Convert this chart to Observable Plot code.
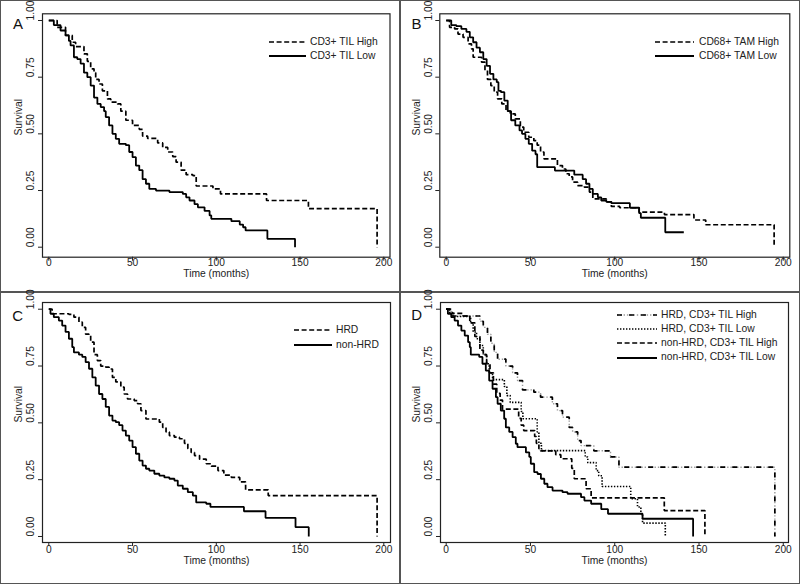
<!DOCTYPE html>
<html><head><meta charset="utf-8">
<script src="https://cdn.jsdelivr.net/npm/d3@7"></script>
<script src="https://cdn.jsdelivr.net/npm/@observablehq/plot@0.6"></script>
<style>
body{margin:0;background:#fff;font-family:"Liberation Sans",Arial,Helvetica,sans-serif;}
#wrap{position:relative;width:800px;height:584px;overflow:hidden;}
.panel{position:absolute;box-sizing:border-box;border:1px solid #555;background:#fff;width:400px;height:292px;}
.panel > svg{position:absolute;left:0;top:0;}
.legend{position:absolute;font-size:10.3px;color:#222;line-height:1;}
.legend .row{display:flex;align-items:center;white-space:nowrap;}
.legend .row svg{display:block;flex:none;}
</style>
</head><body>
<div id="wrap"></div>
<script>
// ---------- shared axis content ----------
const xTicks = [0, 50, 100, 150, 200];
const yTicks = [0, 0.25, 0.5, 0.75, 1];
const xLabel = "Time (months)";
const yLabel = "Survival";

// ---------- Panel A: CD3+ TIL ----------
const aLabels = ["CD3+ TIL High", "CD3+ TIL Low"];
const aHigh = [[0,1],[5,0.97],[10,0.934],[14,0.904],[16,0.885],[21,0.853],[23,0.82],[25,0.787],[27,0.77],[28,0.74],[30,0.72],[32,0.69],[35,0.654],[37,0.64],[41,0.632],[43,0.60],[46,0.56],[50,0.537],[54,0.52],[56,0.49],[59,0.48],[65,0.46],[68,0.44],[71,0.42],[74,0.40],[76,0.375],[79,0.34],[82,0.32],[86,0.316],[88,0.27],[98,0.257],[102.5,0.235],[130,0.206],[155,0.17],[196,0]];
const aLow = [[0,1],[3,0.98],[7,0.956],[10,0.934],[12,0.91],[13,0.89],[15,0.838],[17,0.83],[19,0.81],[21,0.77],[23,0.75],[25,0.713],[27,0.66],[29,0.632],[31,0.618],[33,0.60],[34,0.574],[36,0.537],[38,0.50],[40,0.478],[42,0.456],[46,0.45],[48,0.42],[50,0.397],[52,0.36],[54,0.34],[56,0.30],[58,0.28],[60,0.257],[64,0.25],[72,0.243],[80,0.235],[82,0.22],[84,0.206],[87,0.19],[89,0.176],[93,0.16],[96,0.14],[97,0.125],[109,0.115],[114,0.10],[116,0.088],[117.5,0.074],[130.5,0.037],[147,0]];

// ---------- Panel B: CD68+ TAM ----------
const bLabels = ["CD68+ TAM High", "CD68+ TAM Low"];
const bHigh = [[0,1],[2,0.97],[5,0.963],[7,0.94],[10,0.926],[13,0.897],[15,0.875],[16,0.838],[21,0.816],[23,0.78],[24.5,0.74],[26.5,0.713],[28.5,0.684],[30.5,0.654],[33,0.632],[35.5,0.60],[38,0.588],[41,0.566],[44,0.53],[46,0.507],[49,0.485],[52,0.47],[54,0.45],[56,0.42],[58,0.39],[66,0.36],[69,0.345],[71,0.324],[73,0.31],[75,0.287],[78,0.272],[82,0.265],[85,0.243],[87,0.213],[95,0.20],[98,0.18],[103,0.174],[114.5,0.155],[129.5,0.144],[147,0.12],[154,0.099],[194.6,0]];
const bLow = [[0,1],[3,0.98],[6,0.975],[9,0.963],[12,0.95],[14,0.926],[16,0.904],[18,0.88],[20,0.86],[22,0.83],[24,0.80],[26,0.765],[28,0.74],[30,0.728],[31,0.69],[32.5,0.684],[34.5,0.647],[36.5,0.60],[38.5,0.56],[41,0.537],[43.5,0.515],[45,0.50],[47,0.478],[49,0.456],[51,0.426],[53,0.41],[54,0.353],[64.5,0.338],[76,0.32],[81,0.30],[83,0.28],[85,0.257],[87,0.235],[90,0.22],[92,0.206],[95,0.20],[98,0.194],[109,0.174],[114.5,0.15],[115.5,0.13],[130,0.066],[141,0.066]];

// ---------- Panel C: HRD ----------
const cLabels = ["HRD", "non-HRD"];
const cHRD = [[0,1],[2,0.98],[12,0.977],[15,0.965],[18,0.943],[20,0.92],[22,0.89],[24,0.885],[25,0.855],[27,0.80],[29,0.774],[31,0.75],[34,0.745],[36,0.737],[38,0.70],[40,0.68],[43,0.657],[45,0.627],[47,0.605],[51,0.598],[53,0.584],[55,0.554],[58,0.517],[66,0.503],[68,0.48],[70,0.46],[72,0.444],[75,0.437],[78,0.43],[81,0.41],[83,0.386],[85,0.37],[87,0.356],[90,0.34],[94,0.32],[97,0.31],[101,0.29],[104.5,0.27],[109,0.26],[114,0.24],[117.5,0.205],[131,0.18],[196,0]];
const cNonHRD = [[0,1],[1,0.98],[3,0.965],[6,0.95],[8,0.928],[10,0.90],[12,0.87],[14,0.833],[15,0.81],[18,0.80],[20,0.79],[22,0.767],[24,0.738],[26,0.70],[28,0.664],[30,0.627],[32,0.605],[34,0.57],[36,0.532],[38,0.51],[40,0.503],[42,0.49],[44,0.466],[46,0.444],[48,0.422],[50,0.393],[52,0.364],[54,0.334],[56,0.312],[58,0.298],[60,0.29],[63,0.276],[66,0.268],[69,0.26],[72,0.254],[75,0.246],[77,0.224],[80,0.21],[83,0.195],[86,0.18],[88,0.15],[94,0.144],[96.5,0.13],[116.5,0.111],[129.4,0.082],[147.3,0.041],[155.2,0]];

// ---------- Panel D: HRD x CD3+ TIL ----------
const dLabels = ["HRD, CD3+ TIL High", "HRD, CD3+ TIL Low", "non-HRD, CD3+ TIL High", "non-HRD, CD3+ TIL Low"];
const dHrdHigh = [[0,1],[3,0.97],[20,0.947],[22,0.92],[24.5,0.89],[26.5,0.85],[28.5,0.81],[30.5,0.78],[35.4,0.75],[39.4,0.72],[42.3,0.686],[45.3,0.645],[52,0.635],[56,0.613],[63,0.584],[66,0.554],[69,0.525],[73,0.48],[75,0.46],[78,0.422],[80,0.40],[87.6,0.377],[97.5,0.35],[102.5,0.305],[195,0]];
const dHrdLow = [[0,1],[2,0.985],[4,0.968],[14.5,0.94],[16,0.90],[18,0.87],[20,0.84],[22,0.80],[24,0.76],[25.5,0.72],[27.5,0.69],[34.5,0.66],[36,0.62],[38,0.59],[44.5,0.55],[45.5,0.518],[54,0.46],[55,0.41],[56.5,0.378],[82.5,0.35],[84,0.325],[89,0.29],[90.5,0.267],[92.5,0.22],[109.5,0.166],[113.5,0.13],[115.5,0.10],[116.5,0.059],[130,0]];
const dNonHigh = [[0,1],[2,0.982],[10,0.97],[14,0.94],[17,0.88],[20,0.82],[22,0.80],[24,0.76],[26,0.72],[28,0.67],[30,0.63],[32,0.60],[33.4,0.56],[43,0.52],[44.5,0.49],[46,0.466],[52.5,0.44],[53.5,0.41],[55,0.386],[56,0.377],[65,0.36],[68,0.342],[74.5,0.30],[76,0.254],[83,0.21],[86,0.17],[129.4,0.114],[153.5,0]];
const dNonLow = [[0,1],[1,0.98],[3,0.965],[5,0.95],[7,0.928],[9,0.906],[11,0.884],[13,0.855],[14,0.833],[14.6,0.80],[19.6,0.79],[21.5,0.76],[23.5,0.73],[25.5,0.686],[27.5,0.65],[29.5,0.613],[30.5,0.584],[32.4,0.554],[34.4,0.518],[35.4,0.48],[37.4,0.46],[39.4,0.437],[41.3,0.408],[42.3,0.393],[47.3,0.37],[49.3,0.35],[50.2,0.32],[52.2,0.283],[54.2,0.275],[56.2,0.254],[58.2,0.232],[60.1,0.217],[63.1,0.202],[69,0.195],[72,0.188],[80,0.173],[82,0.158],[86,0.144],[92,0.12],[96,0.10],[116.5,0.078],[146.5,0]];

// ---------- line styles ----------
const STYLES = {
  solid:  [{stroke:"#000", strokeWidth:1.8}],
  dashed: [{stroke:"#000", strokeWidth:1.7, strokeDasharray:"5,2.6"}],
  dotted: [{stroke:"#000", strokeWidth:1.6, strokeDasharray:"1.4,1.6"}],
  dashdot:[{stroke:"#9a9a9a", strokeWidth:1.4, strokeDasharray:"1.4,1.9"},
           {stroke:"#000", strokeWidth:1.7, strokeDasharray:"5,7"}]
};

function kmMarks(data, kind) {
  return STYLES[kind].map(s => Plot.line(data, {
    x: d => d[0], y: d => d[1], curve: "step-after",
    strokeLinecap: "butt", strokeLinejoin: "miter", ...s
  }));
}

function makePanel(cfg) {
  const W = 398, H = 290;
  const marks = [
    Plot.axisX({ticks: xTicks, tickSize: 4, tickFormat: () => "", label: null, stroke: "#222"}),
    Plot.axisY({ticks: yTicks, tickSize: 4, tickFormat: () => "", label: null, stroke: "#222"}),
    Plot.text(xTicks, {x: d => d, text: d => String(d), frameAnchor: "bottom", dy: cfg.tickDy, fontSize: 10.2, fill: "#222"}),
    Plot.text(yTicks, {y: d => d, text: d => d.toFixed(2), frameAnchor: "left", dx: -11.5, rotate: -90, fontSize: 10.2, fill: "#222"}),
    Plot.text([xLabel], {text: d => d, frameAnchor: "bottom", dy: cfg.titleDy, fontSize: 10.3, fill: "#222"}),
    Plot.text([yLabel], {text: d => d, frameAnchor: "left", dx: -23.5, rotate: -90, fontSize: 10.3, fill: "#222"}),
    Plot.text([cfg.letter], {text: d => d, frameAnchor: "top-left", dx: cfg.letterDx, dy: cfg.letterDy, fontSize: 15, fill: "#111"}),
    ...cfg.series.flatMap(s => kmMarks(s.data, s.kind)),
    Plot.frame({stroke: "#222", strokeWidth: 1.2})
  ];
  return Plot.plot({
    width: W, height: H,
    marginLeft: cfg.ml, marginRight: cfg.mr, marginTop: cfg.mt, marginBottom: cfg.mb,
    x: {domain: cfg.xd, axis: null},
    y: {domain: cfg.yd, axis: null},
    style: {fontFamily: '"Liberation Sans", Arial, Helvetica, sans-serif', background: "transparent", color: "#222", overflow: "visible"},
    marks
  });
}

function sampleSvg(kind, w) {
  const lines = STYLES[kind].map(s =>
    `<line x1="0" x2="${w}" y1="4" y2="4" stroke="${s.stroke}" stroke-width="${s.strokeWidth}" ${s.strokeDasharray ? `stroke-dasharray="${s.strokeDasharray}"` : ""}/>`
  ).join("");
  return `<svg width="${w}" height="8">${lines}</svg>`;
}

function addLegend(el, labels, kinds, lg) {
  const div = document.createElement("div");
  div.className = "legend";
  div.style.left = lg.left + "px";
  div.style.top = lg.top + "px";
  div.innerHTML = labels.map((lab, i) =>
    `<div class="row" style="height:${lg.rowH}px"><span style="margin-right:${lg.gap}px;display:block">${sampleSvg(kinds[i], lg.lineW)}</span><span>${lab}</span></div>`
  ).join("");
  el.appendChild(div);
}

const wrap = document.getElementById("wrap");
const panels = [
  {pos: [0, 0], letter: "A", ml: 41, mr: 9.5, mt: 12.3, mb: 34.3, xd: [-3.76, 203.7], yd: [-0.0441, 1.0296],
   letterDx: -29.5, letterDy: 5, tickDy: 8.5, titleDy: 19.5,
   series: [{data: aHigh, kind: "dashed"}, {data: aLow, kind: "solid"}],
   labels: aLabels, kinds: ["dashed", "solid"],
   legend: {left: 268, top: 33.5, rowH: 14.3, lineW: 37, gap: 4}},
  {pos: [400, 0], letter: "B", ml: 38.3, mr: 9.7, mt: 12.3, mb: 34.3, xd: [-3.8, 203.9], yd: [-0.0441, 1.0296],
   letterDx: -28.3, letterDy: 5, tickDy: 8.5, titleDy: 19.5,
   series: [{data: bHigh, kind: "dashed"}, {data: bLow, kind: "solid"}],
   labels: bLabels, kinds: ["dashed", "solid"],
   legend: {left: 254, top: 33.5, rowH: 14.3, lineW: 39, gap: 5}},
  {pos: [0, 292], letter: "C", ml: 41, mr: 9, mt: 9, mb: 41, xd: [-3.76, 204], yd: [-0.0264, 1.0295],
   letterDx: -30.3, letterDy: 7.5, tickDy: 10, titleDy: 21.5,
   series: [{data: cHRD, kind: "dashed"}, {data: cNonHRD, kind: "solid"}],
   labels: cLabels, kinds: ["dashed", "solid"],
   legend: {left: 293, top: 30.2, rowH: 14.4, lineW: 38, gap: 4}},
  {pos: [400, 292], letter: "D", ml: 39, mr: 11, mt: 9, mb: 41, xd: [-3.38, 203.1], yd: [-0.0264, 1.0295],
   letterDx: -29.2, letterDy: 7.3, tickDy: 10, titleDy: 21.5,
   series: [{data: dHrdHigh, kind: "dashdot"}, {data: dHrdLow, kind: "dotted"}, {data: dNonHigh, kind: "dashed"}, {data: dNonLow, kind: "solid"}],
   labels: dLabels, kinds: ["dashdot", "dotted", "dashed", "solid"],
   legend: {left: 216, top: 15.2, rowH: 14.1, lineW: 40, gap: 4}}
];

for (const p of panels) {
  const el = document.createElement("div");
  el.className = "panel";
  el.style.left = p.pos[0] + "px";
  el.style.top = p.pos[1] + "px";
  el.appendChild(makePanel(p));
  addLegend(el, p.labels, p.kinds, p.legend);
  wrap.appendChild(el);
}
</script>
</body></html>
